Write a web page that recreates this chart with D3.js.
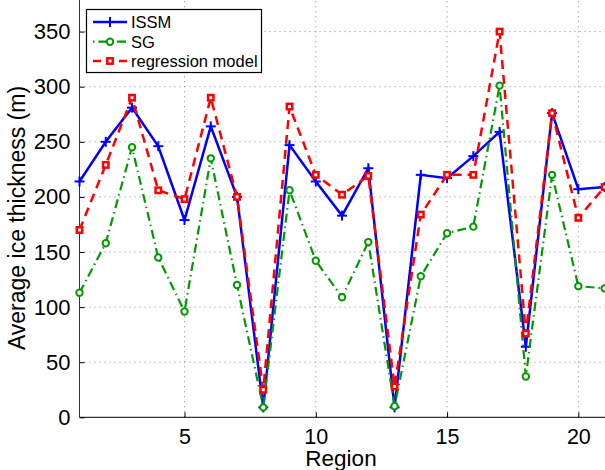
<!DOCTYPE html>
<html><head><meta charset="utf-8">
<script src="https://cdn.jsdelivr.net/npm/d3@7"></script>
<style>html,body{margin:0;padding:0;background:#fff;} svg{display:block;font-family:"Liberation Sans",Arial,sans-serif;}</style>
</head><body>
<svg id="c" width="605" height="470"></svg>
<script>
const regions = d3.range(1, 22);
const issm = [214, 250, 281, 246, 179, 264, 200, 9, 247, 214, 183, 226, 9, 220, 217, 237, 259, 64, 276, 207, 209];
const sg = [113, 158, 245, 145, 96, 235, 120, 9, 206, 142, 109, 159, 10, 128, 167, 173, 301, 37, 220, 119, 117];
const regression = [170, 229, 290, 206, 198, 290, 200, 25, 282, 220, 202, 219, 28, 184, 220, 220, 350, 76, 276, 181, 209];
const xTicks = [5, 10, 15, 20];
const yTicks = [0, 50, 100, 150, 200, 250, 300, 350];
const seriesNames = ["ISSM", "SG", "regression model"];

const svg = d3.select("#c");
const x = d3.scaleLinear().domain([1, 21]).range([79.5, 604.6]);
const y = d3.scaleLinear().domain([0, 350]).range([417.3, 31.6]);

// grid
const grid = svg.append("g");
grid.selectAll("line.gx").data(xTicks).enter().append("line")
  .attr("x1", d => x(d)).attr("x2", d => x(d)).attr("y1", y(0)).attr("y2", 0)
  .attr("stroke", "#888").attr("stroke-width", 1).attr("stroke-dasharray", "1,4");
grid.selectAll("line.gy").data(yTicks.filter(d => d > 0)).enter().append("line")
  .attr("x1", x(1)).attr("x2", 605).attr("y1", d => y(d)).attr("y2", d => y(d))
  .attr("stroke", "#888").attr("stroke-width", 1).attr("stroke-dasharray", "1,4");

// axes
const xAxis = d3.axisBottom(x).tickValues(xTicks).tickSize(-5).tickPadding(11).tickFormat(d3.format("d"));
const gx = svg.append("g").attr("transform", `translate(0,${y(0)})`).call(xAxis);
gx.select(".domain").remove();
gx.append("line").attr("x1", x(1)).attr("x2", 605).attr("stroke", "#000");
gx.selectAll("text").attr("font-size", 21.5).attr("fill", "#000").attr("font-family", "Liberation Sans, Arial, sans-serif");

const yAxis = d3.axisLeft(y).tickValues(yTicks).tickSize(-5).tickPadding(9);
const gy = svg.append("g").attr("transform", `translate(${x(1)},0)`).call(yAxis);
gy.select(".domain").remove();
gy.append("line").attr("y1", y(0)).attr("y2", 0).attr("stroke", "#333");
gy.selectAll("text").attr("font-size", 22).attr("fill", "#000").attr("font-family", "Liberation Sans, Arial, sans-serif");

// labels
svg.append("text").attr("x", 341).attr("y", 465.5).attr("text-anchor", "middle")
  .attr("font-size", 22.5).text("Region");
svg.append("text").attr("transform", "translate(25,218) rotate(-90)").attr("text-anchor", "middle")
  .attr("font-size", 23).text("Average ice thickness (m)");

const line = d3.line().x((d, i) => x(regions[i])).y(d => y(d));

function plus(g, cx, cy, color) {
  g.append("line").attr("x1", cx - 5).attr("x2", cx + 5).attr("y1", cy).attr("y2", cy).attr("stroke", color).attr("stroke-width", 2);
  g.append("line").attr("x1", cx).attr("x2", cx).attr("y1", cy - 5).attr("y2", cy + 5).attr("stroke", color).attr("stroke-width", 2);
}

const BLUE = "#0000ff", GREEN = "#009a00", RED = "#ff0000";
const plot = svg.append("g");

// ISSM
plot.append("path").datum(issm).attr("d", line).attr("fill", "none").attr("stroke", BLUE).attr("stroke-width", 2.5).attr("stroke-linejoin", "miter");
const gI = plot.append("g");
issm.forEach((d, i) => plus(gI, x(regions[i]), y(d), BLUE));

// SG
plot.append("path").datum(sg).attr("d", line).attr("fill", "none").attr("stroke", GREEN).attr("stroke-width", 2.2).attr("stroke-dasharray", "9,4,1.5,4");
plot.append("g").selectAll("circle").data(sg).enter().append("circle")
  .attr("cx", (d, i) => x(regions[i])).attr("cy", d => y(d)).attr("r", 3.2)
  .attr("fill", "#fff").attr("stroke", GREEN).attr("stroke-width", 2);

// regression
plot.append("path").datum(regression).attr("d", line).attr("fill", "none").attr("stroke", RED).attr("stroke-width", 2.5).attr("stroke-dasharray", "9,6");
plot.append("g").selectAll("rect").data(regression).enter().append("rect")
  .attr("x", (d, i) => x(regions[i]) - 2.7).attr("y", d => y(d) - 2.7).attr("width", 5.4).attr("height", 5.4)
  .attr("fill", "#fff").attr("stroke", RED).attr("stroke-width", 2.5);

// legend
const lg = svg.append("g");
lg.append("rect").attr("x", 86.5).attr("y", 9.5).attr("width", 175).attr("height", 63)
  .attr("fill", "#fff").attr("stroke", "#000").attr("stroke-width", 1.2);
const rows = [22, 41.7, 61];
const lx1 = 93, lx2 = 127, lm = 110;
// ISSM
lg.append("line").attr("x1", lx1).attr("x2", lx2).attr("y1", rows[0]).attr("y2", rows[0]).attr("stroke", BLUE).attr("stroke-width", 2.5);
plus(lg, lm, rows[0], BLUE);
// SG
lg.append("line").attr("x1", lx1).attr("x2", lx2).attr("y1", rows[1]).attr("y2", rows[1]).attr("stroke", GREEN).attr("stroke-width", 2.2).attr("stroke-dasharray", "1.5,4,9,4");
lg.append("circle").attr("cx", lm).attr("cy", rows[1]).attr("r", 3.2).attr("fill", "#fff").attr("stroke", GREEN).attr("stroke-width", 2);
// regression
lg.append("line").attr("x1", lx1).attr("x2", lx2).attr("y1", rows[2]).attr("y2", rows[2]).attr("stroke", RED).attr("stroke-width", 2.5).attr("stroke-dasharray", "8,5");
lg.append("rect").attr("x", lm - 2.7).attr("y", rows[2] - 2.7).attr("width", 5.4).attr("height", 5.4).attr("fill", "#fff").attr("stroke", RED).attr("stroke-width", 2.5);
lg.selectAll("text.l").data(seriesNames).enter().append("text")
  .attr("x", 131).attr("y", (d, i) => rows[i] + 6).attr("font-size", 16.5).text(d => d);
</script>
</body></html>
